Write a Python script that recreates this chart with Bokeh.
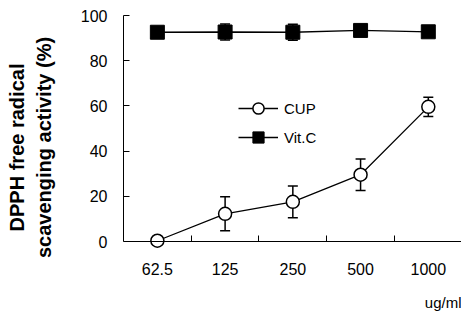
from bokeh.plotting import figure
from bokeh.models import (Range1d, FixedTicker, Legend, LegendItem, Whisker, TeeHead,
                          ColumnDataSource, Title)
from bokeh.embed import file_html
from bokeh.resources import INLINE

doses = ["62.5", "125", "250", "500", "1000"]
cup = [0.4, 12.3, 17.6, 29.6, 59.6]
cup_err = [0.5, 7.5, 7.0, 7.0, 4.3]
vitc = [92.6, 92.7, 92.6, 93.4, 92.8]
vitc_err = [1.0, 3.5, 3.5, 1.0, 1.0]
y_ticks = [0, 20, 40, 60, 80, 100]

FONT = "Liberation Sans"
x = list(range(len(doses)))

src = ColumnDataSource(dict(
    x=x, cup=cup, vitc=vitc,
    cup_lo=[v - e for v, e in zip(cup, cup_err)],
    cup_hi=[v + e for v, e in zip(cup, cup_err)],
    vitc_lo=[v - e for v, e in zip(vitc, vitc_err)],
    vitc_hi=[v + e for v, e in zip(vitc, vitc_err)],
))

p = figure(width=461, height=323, output_backend="svg", toolbar_location=None,
           x_range=Range1d(-0.5, 4.49), y_range=Range1d(-16.74, 100),
           min_border_left=123, min_border_right=0, min_border_top=15, min_border_bottom=43)
p.outline_line_color = None
p.xgrid.visible = False
p.ygrid.visible = False
p.background_fill_color = "white"

# y axis
ya = p.yaxis[0]
ya.ticker = FixedTicker(ticks=y_ticks, minor_ticks=[])
ya.bounds = (0, 100)
ya.major_tick_in = 6
ya.major_tick_out = 0
ya.minor_tick_in = 0
ya.minor_tick_out = 0
ya.major_label_standoff = 16
ya.major_label_text_font = FONT
ya.major_label_text_font_size = "16px"
ya.major_label_text_color = "black"
ya.axis_line_color = "black"
ya.major_tick_line_color = "black"
ya.axis_label = "DPPH free radical\nscavenging activity (%)"
ya.axis_label_text_font = FONT
ya.axis_label_text_font_size = "20px"
ya.axis_label_text_font_style = "bold"
ya.axis_label_text_color = "black"
ya.axis_label_standoff = 23

# x axis
xa = p.xaxis[0]
xa.fixed_location = 0
xa.ticker = FixedTicker(ticks=x, minor_ticks=[i + 0.5 for i in x[:-1]])
xa.major_label_overrides = {i: d for i, d in zip(x, doses)}
xa.major_tick_in = 0
xa.major_tick_out = 0
xa.minor_tick_in = 6
xa.minor_tick_out = 0
xa.major_label_standoff = 21
xa.major_label_text_font = FONT
xa.major_label_text_font_size = "16px"
xa.major_label_text_color = "black"
xa.axis_line_color = "black"
xa.minor_tick_line_color = "black"

# error bars
for lo, hi in (("cup_lo", "cup_hi"), ("vitc_lo", "vitc_hi")):
    w = Whisker(source=src, base="x", lower=lo, upper=hi, line_color="black", line_width=1.5,
                upper_head=TeeHead(size=10, line_color="black", line_width=1.5),
                lower_head=TeeHead(size=10, line_color="black", line_width=1.5),
                level="underlay")
    p.add_layout(w)

l1 = p.line("x", "cup", source=src, line_color="black", line_width=1.3)
s1 = p.scatter("x", "cup", source=src, marker="circle", size=13, fill_color="white",
               line_color="black", line_width=1.5)
l2 = p.line("x", "vitc", source=src, line_color="black", line_width=1.3)
s2 = p.scatter("x", "vitc", source=src, marker="square", size=14, fill_color="black",
               line_color="black", line_width=1)

legend = Legend(items=[LegendItem(label="CUP", renderers=[l1, s1]),
                       LegendItem(label="Vit.C", renderers=[l2, s2])],
                location=(115, 128), glyph_width=40, glyph_height=28, spacing=1,
                padding=0, margin=0, label_standoff=6,
                label_text_font=FONT, label_text_font_size="15px",
                label_text_color="black", border_line_color=None,
                background_fill_alpha=0)
p.add_layout(legend)

unit = Title(text="ug/ml", align="right", vertical_align="bottom", text_font=FONT,
             text_font_size="15px", text_font_style="normal", text_color="black",
             standoff=25)
p.add_layout(unit, "below")

open("out.html", "w").write(file_html(p, INLINE))
